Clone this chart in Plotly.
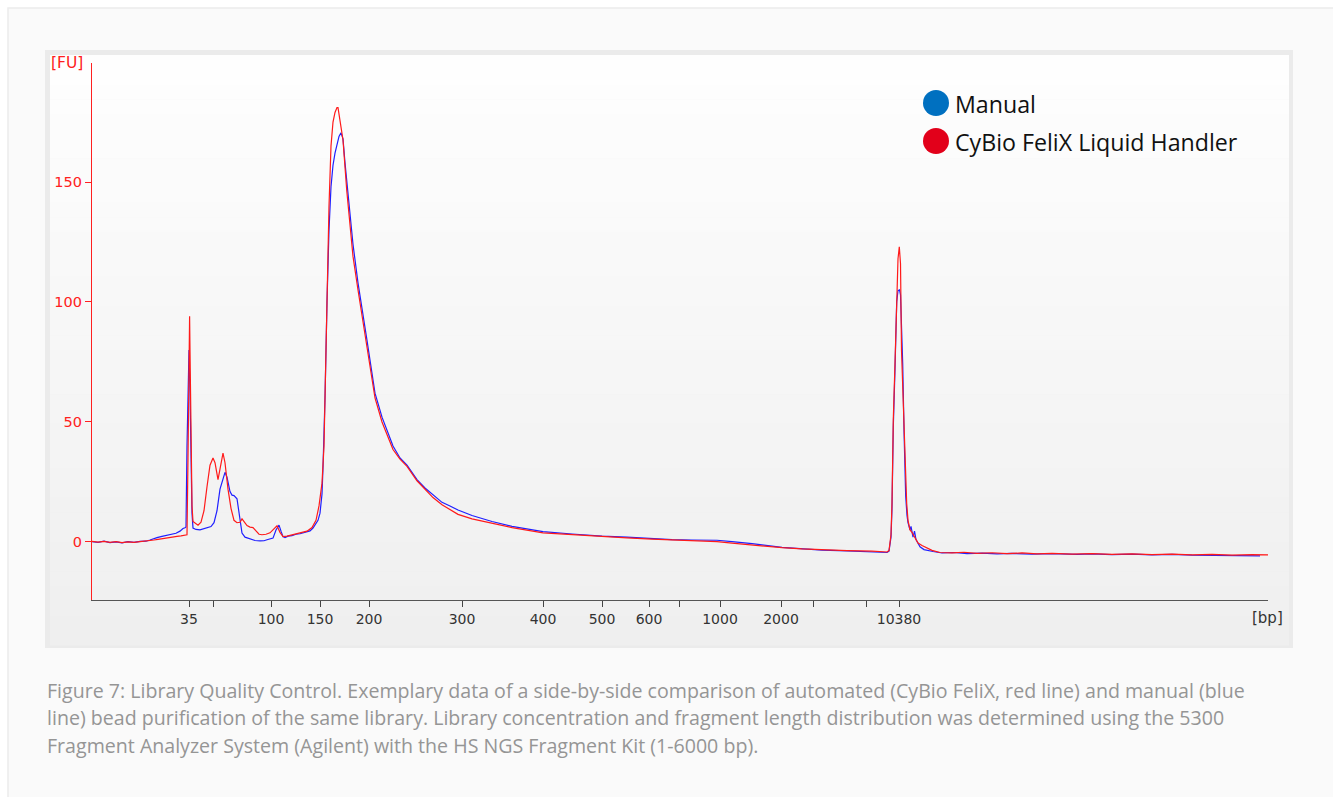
import plotly.graph_objects as go

# ---------------- data ----------------
# migration position (arbitrary units along the electropherogram) and fluorescence [FU]
manual_pos = [0, 6, 12, 18, 24, 30, 36, 42, 48, 54, 58, 61, 65, 70, 75, 80, 84, 88, 91, 93, 94,
              95, 96, 97, 98, 99, 100, 101, 104, 108, 112, 116, 119, 122, 125, 128, 130, 133, 135,
              138, 140, 142, 145, 147, 150, 153, 158, 163, 168, 172, 175, 178, 181, 184, 187, 189,
              191, 193, 196, 200, 204, 208, 211, 215, 218, 221, 224, 226, 228, 230, 231, 233, 235,
              237, 239, 241, 243, 245, 247, 249, 251, 253, 255, 258, 261, 266, 270, 275, 283, 290,
              301, 308, 315, 325, 333, 341, 350, 358, 366, 380, 400, 420, 451, 480, 510, 535, 560,
              580, 600, 612, 625, 640, 660, 690, 710, 730, 755, 780, 790, 795, 797, 799, 800,
              801.3, 803, 804.7, 806, 807.5, 808.5, 809.5, 810.7, 812, 813.7, 815, 816, 818, 819,
              821, 822.5, 824, 826, 828, 832, 836, 841, 850, 862, 875, 890, 905, 920, 940, 960,
              985, 1000, 1020, 1040, 1060, 1080, 1100, 1120, 1140, 1150, 1160, 1168]
manual_fu = [0.1, -0.2, 0.3, -0.3, 0.0, -0.4, 0.1, -0.2, 0.2, 0.3, 0.8, 1.3, 1.8, 2.3, 2.7, 3.2,
             3.6, 4.5, 5.6, 5.9, 6.2, 40, 70, 80, 62, 35, 12, 5.8, 5.2, 5.0, 5.6, 5.9, 6.4, 8.0,
             13, 22, 24.5, 29, 27, 21, 19.5, 19.3, 18, 13, 3.7, 2.0, 1.4, 0.6, 0.4, 0.5, 0.9, 1.2,
             1.6, 5.0, 7.0, 4.5, 2.2, 1.8, 2.4, 2.6, 3.2, 3.4, 3.8, 4.2, 4.6, 5.8, 7.5, 9.0, 12,
             20, 31, 60, 100, 130, 148, 157, 162, 166, 169, 170.5, 168, 158, 150, 138, 124, 108,
             98, 84, 62, 52, 40, 35, 32, 26, 22.5, 19.5, 16.5, 15, 13.3, 11, 8.5, 6.5, 4.3, 3.3,
             2.4, 2.0, 1.4, 1.0, 0.8, 0.9, 0.7, 0.1, -0.7, -2.3, -2.9, -3.4, -3.7, -4.0, -4.2,
             -4.4, -3.8, 2, 14, 48, 72, 100, 104.7, 105, 103, 90, 74.5, 46.7, 19, 11, 8, 5, 6.5,
             2, 4.5, 1, -0.5, -2, -3.2, -3.6, -4.0, -4.6, -4.4, -4.9, -4.7, -5.0, -4.8, -5.1,
             -4.9, -5.2, -5.0, -5.3, -5.1, -5.4, -5.2, -5.5, -5.6, -5.4, -5.7, -5.8, -5.8]

felix_pos = [0, 6, 12, 18, 24, 30, 36, 42, 48, 54, 58, 62, 66, 70, 75, 80, 85, 89, 92, 94,
             95, 96, 97, 97.6, 98, 99, 100, 101, 103, 106, 109, 112, 115, 118, 121, 123, 126, 128,
             131, 133, 136, 139, 142, 145, 148, 150, 152, 155, 158, 161, 164, 167, 170, 174, 178,
             182, 185, 188, 191, 195, 200, 205, 210, 215, 220, 224, 227, 230, 232, 233, 235, 237,
             239, 241, 243, 245, 246, 248, 251, 254.7, 258, 261, 266, 270, 275, 283, 290, 301,
             308, 315, 325, 333, 341, 350, 358, 366, 380, 400, 420, 451, 480, 510, 535, 560, 580,
             600, 612, 625, 640, 660, 690, 710, 730, 755, 780, 790, 795, 797, 799, 800, 801.3,
             803, 804.7, 806, 807.3, 808.5, 809.5, 811.3, 813, 814.7, 816, 818, 820, 823, 826,
             830, 835, 840, 848, 860, 872, 885, 900, 915, 930, 945, 960, 980, 1000, 1020, 1040,
             1060, 1080, 1100, 1120, 1140, 1160, 1176]
felix_fu = [0.2, -0.1, 0.2, -0.2, 0.1, -0.3, 0.0, -0.2, 0.1, 0.3, 0.5, 0.8, 1.1, 1.4, 1.7, 2.0,
            2.3, 2.5, 2.7, 2.8, 3.0, 35, 80, 94, 80, 45, 15, 8.5, 7.8, 7.0, 8.2, 13, 23, 32, 35,
            33, 26, 30, 37, 33, 22, 14, 9, 8, 8.2, 9.6, 8.6, 6.8, 6.2, 6.0, 4.6, 3.2, 3.0, 3.2,
            3.8, 5.4, 6.7, 4.0, 2.2, 2.4, 3.0, 3.4, 4.0, 4.5, 6.0, 9.0, 15, 24.5, 40, 59, 105,
            140, 165, 175, 179, 181, 181, 176, 167.5, 146.7, 133, 119, 105, 94, 80, 60, 50, 38.5,
            34.5, 31.5, 25.5, 22, 18.5, 15.5, 13.5, 11.5, 9.6, 7.8, 6.0, 3.8, 3.0, 2.1, 1.7, 1.2,
            0.9, 0.5, 0.4, 0.1, -0.5, -1.3, -2.4, -2.9, -3.3, -3.6, -3.8, -4.0, -4.2, -3.6, 3, 16,
            51, 74.5, 102, 118, 123, 116, 80, 60, 33, 16, 9, 5, 4, 2, -0.5, -1.5, -2.5, -3.5,
            -4.4, -4.6, -4.3, -4.8, -4.5, -4.9, -4.6, -5.0, -4.8, -5.1, -4.9, -5.2, -5.0, -5.3,
            -5.1, -5.4, -5.2, -5.5, -5.3, -5.4]

tick_pos = [97, 121, 179, 228, 277, 370, 451, 510, 557, 587, 628, 689, 721, 774, 807]
tick_labels = ["35", "", "100", "150", "200", "300", "400", "500", "600", "", "1000", "2000",
               "", "", "10380"]
fu_ticks = [0, 50, 100, 150]

series_names = ["Manual", "CyBio FeliX Liquid Handler"]
caption_lines = [
    "Figure 7: Library Quality Control. Exemplary data of a side-by-side comparison of automated (CyBio FeliX, red line) and manual (blue",
    "line) bead purification of the same library. Library concentration and fragment length distribution was determined using the 5300",
    "Fragment Analyzer System (Agilent) with the HS NGS Fragment Kit (1-6000 bp).",
]

# ---------------- figure ----------------
W, H = 1333, 797


def px(x):
    return x / W


def py(y):
    return 1 - y / H


fig = go.Figure()
fig.add_trace(go.Scatter(x=manual_pos, y=manual_fu, mode="lines", name=series_names[0],
                         line=dict(color="#1f1fff", width=1.2), showlegend=False))
fig.add_trace(go.Scatter(x=felix_pos, y=felix_fu, mode="lines", name=series_names[1],
                         line=dict(color="#ff1a1a", width=1.2), showlegend=False))

shapes = []
# page frame
shapes.append(dict(type="rect", xref="paper", yref="paper", x0=px(8), x1=px(1340), y0=py(8),
                   y1=py(805), fillcolor="#fafafa", line=dict(color="#ececec", width=1.5),
                   layer="below"))
# chart panel
shapes.append(dict(type="rect", xref="paper", yref="paper", x0=px(45), x1=px(1293), y0=py(50),
                   y1=py(648), fillcolor="#ebebeb", line=dict(width=0), layer="below"))
# gradient inner area
top, bot = 55, 645
n = 40
for i in range(n):
    y0 = top + (bot - top) * i / n
    y1 = top + (bot - top) * (i + 1) / n + 0.6
    t = i / (n - 1)
    c = int(round(254 - t * 15))
    shapes.append(dict(type="rect", xref="paper", yref="paper", x0=px(50), x1=px(1289),
                       y0=py(y0), y1=py(y1), fillcolor=f"rgb({c},{c},{c})",
                       line=dict(width=0), layer="below"))
# legend circles
legend_colors = ["#0070c0", "#e2001a"]
legend_y = [103, 141]
for col, ly in zip(legend_colors, legend_y):
    shapes.append(dict(type="circle", xref="paper", yref="paper", xsizemode="pixel",
                       ysizemode="pixel", xanchor=px(936), yanchor=py(ly), x0=-13, x1=13,
                       y0=-13, y1=13, fillcolor=col, line=dict(width=0)))

annotations = []
for name, ly in zip(series_names, legend_y):
    annotations.append(dict(text=name, xref="paper", yref="paper", x=px(953), y=py(ly + 1),
                            xanchor="left", yanchor="middle", showarrow=False,
                            font=dict(family="Open Sans", size=23.2, color="#111111")))
annotations.append(dict(text="[FU]", xref="paper", yref="paper", x=px(66.5), y=py(63),
                        xanchor="center", yanchor="middle", showarrow=False,
                        font=dict(family="DejaVu Sans", size=15.5, color="#ff2020")))
annotations.append(dict(text="[bp]", xref="paper", yref="paper", x=px(1267), y=py(618),
                        xanchor="center", yanchor="middle", showarrow=False,
                        font=dict(family="DejaVu Sans", size=15, color="#333333")))
for line, ly in zip(caption_lines, [690, 717, 745]):
    annotations.append(dict(text=line, xref="paper", yref="paper", x=px(45), y=py(ly),
                            xanchor="left", yanchor="middle", showarrow=False,
                            font=dict(family="Open Sans", size=19.6, color="#959595")))

fig.update_layout(
    width=W, height=H, autosize=False,
    margin=dict(l=0, r=0, t=0, b=0),
    paper_bgcolor="#ffffff", plot_bgcolor="rgba(0,0,0,0)",
    shapes=shapes, annotations=annotations, showlegend=False,
    xaxis=dict(domain=[px(92), px(1268)], range=[0, 1176], showgrid=False, zeroline=False,
               showline=True, linecolor="#555555", linewidth=1, ticks="outside",
               tickcolor="#444444", ticklen=6, tickmode="array", tickvals=tick_pos,
               ticktext=tick_labels, tickfont=dict(family="DejaVu Sans", size=14,
                                                    color="#333333")),
    yaxis=dict(domain=[py(600), py(63)], range=[-24.2, 199.6], showgrid=False, zeroline=False,
               showline=True, linecolor="#ff2020", linewidth=1.2, ticks="outside",
               tickcolor="#ff2020", ticklen=6, tickmode="array", tickvals=fu_ticks,
               tickfont=dict(family="DejaVu Sans", size=14.5, color="#ff2020")),
)

fig.write_html("out.html", post_script="document.body.style.margin='0';",
               config={"displayModeBar": False})
